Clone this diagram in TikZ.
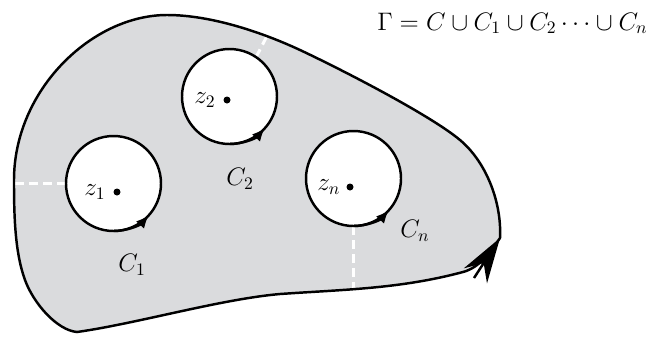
\documentclass[tikz,border=0pt]{standalone}
\usepackage{xcolor}
\usetikzlibrary{arrows.meta}
\definecolor{qgray}{RGB}{218,219,221}

\begin{document}
\begin{tikzpicture}[scale=1, font=\Large]
\def\R{0.95}
\def\W{1.4pt}
\tikzset{cut/.style={white, line width=1.7pt, dash pattern=on 5pt off 3pt}}
\useasboundingbox (0,0) rectangle (13,6.74);

\coordinate (c1) at (2.27,3.07);
\coordinate (c2) at (4.59,4.81);
\coordinate (cn) at (7.07,3.17);
\coordinate (tip) at (10.0,1.98);

\def\outline{(tip) .. controls +(87:0.7) and +(-40:0.7) .. (9.2,3.94)
  .. controls +(140:0.8) and +(-25:0.8) .. (6.0,5.74)
  .. controls +(155:0.8) and +(0:0.9) .. (3.34,6.44)
  .. controls +(180:1.5) and +(90:1.8) .. (0.28,3.14)
  .. controls +(-90:0.7) and +(110:0.6) .. (0.5,1.14)
  .. controls +(-70:0.5) and +(175:0.4) .. (1.54,0.1)
  .. controls +(8:1.2) and +(185:1.2) .. (5.6,0.86)
  .. controls +(4:1.3) and +(195:1.3) .. (9.26,1.3)
  .. controls +(15:0.35) and +(235:0.35) .. (tip) -- cycle}

\fill[qgray] \outline;

\draw[cut] (c1) ++(180:\R) -- (0.28,3.07);
\draw[cut] (c2) ++(56:\R) -- (5.34,6.02);
\draw[cut] (cn) ++(-90:\R) -- (7.07,0.98);

\draw[line width=\W] \outline;
\draw[-{Stealth[length=9mm,width=5.5mm,inset=3mm]}, line width=\W] (9.48,1.18) -- (tip);

\foreach \c in {c1,c2,cn} {
  \draw[line width=\W, fill=white] (\c) circle (\R);
  \draw[-{Latex[length=2.6mm,width=2.2mm]}, line width=\W] (\c) ++(-90:\R) arc(-90:-42:\R);
}

\fill (2.34,2.9) circle (0.07) node[left=3pt] {$z_1$};
\fill (4.54,4.74) circle (0.07) node[left=3pt] {$z_2$};
\fill (7.0,3.0) circle (0.07) node[left=2pt] {$z_n$};

\node at (2.64,1.44) {$C_1$};
\node at (4.8,3.16) {$C_2$};
\node at (8.3,2.12) {$C_n$};
\node[anchor=base east, inner sep=0pt] at (12.96,6.14) {$\Gamma = C\cup C_1\cup C_2\cdots\cup C_n$};
\end{tikzpicture}
\end{document}
